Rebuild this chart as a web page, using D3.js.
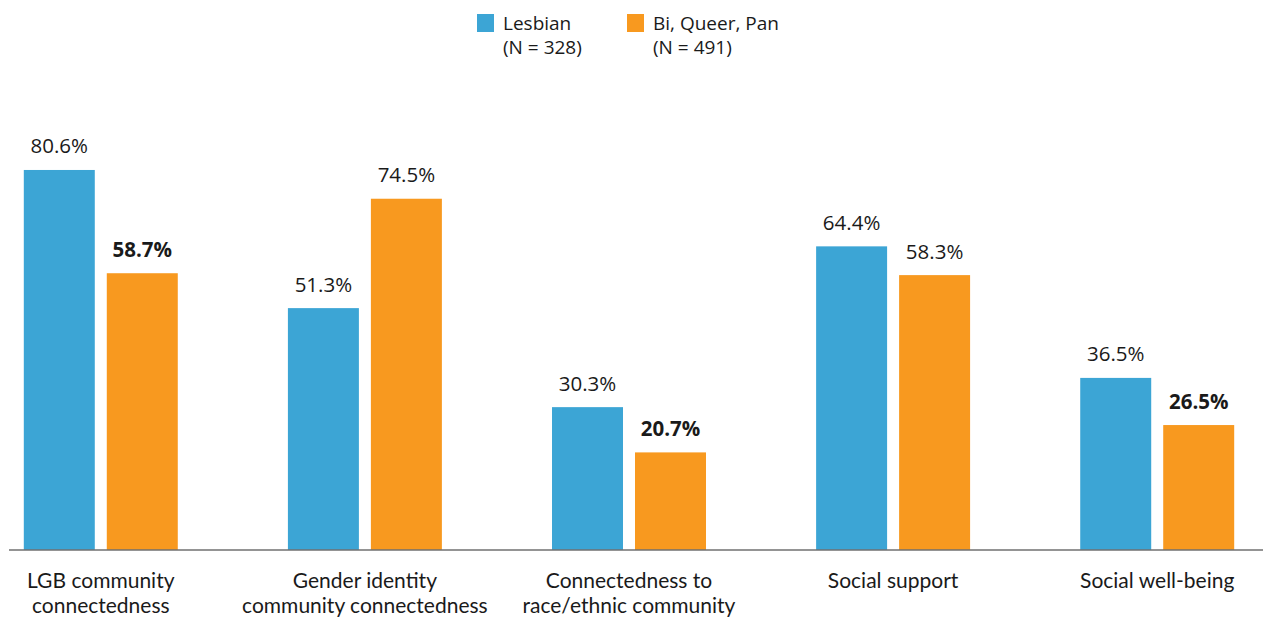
<!DOCTYPE html>
<html>
<head>
<meta charset="utf-8">
<script src="https://cdn.jsdelivr.net/npm/d3@7"></script>
<style>
  html, body { margin: 0; padding: 0; background: #fff; }
  svg { display: block; }
</style>
</head>
<body>
<svg id="chart" width="1263" height="618"></svg>
<script>
const categories = [
  ["LGB community", "connectedness"],
  ["Gender identity", "community connectedness"],
  ["Connectedness to", "race/ethnic community"],
  ["Social support"],
  ["Social well-being"]
];
const seriesNames = ["Lesbian", "Bi, Queer, Pan"];
const seriesN = ["(N = 328)", "(N = 491)"];
const lesbian = [80.6, 51.3, 30.3, 64.4, 36.5];
const biQueerPan = [58.7, 74.5, 20.7, 58.3, 26.5];
const boldFlags = [[false, false, false, false, false], [true, false, true, false, true]];
const colors = ["#3ca5d5", "#f8991f"];

const svg = d3.select("#chart");
const values = [lesbian, biQueerPan];
const catKeys = categories.map((c, i) => i);

const x0 = d3.scaleBand().domain(catKeys).range([23.8, 1234.2]).paddingInner(0.417).paddingOuter(0);
const x1 = d3.scaleBand().domain([0, 1]).range([0, x0.bandwidth()]).paddingInner(0.1446).paddingOuter(0);
const y = d3.scaleLinear().domain([0, 100]).range([550, 78.5]);

const groups = svg.selectAll("g.grp").data(catKeys).join("g")
  .attr("class", "grp")
  .attr("transform", d => `translate(${x0(d)},0)`);

groups.selectAll("rect").data(ci => [0, 1].map(si => ({ si, v: values[si][ci], b: boldFlags[si][ci] })))
  .join("rect")
  .attr("x", d => x1(d.si))
  .attr("width", x1.bandwidth())
  .attr("y", d => y(d.v))
  .attr("height", d => y(0) - y(d.v))
  .attr("fill", d => colors[d.si]);

groups.selectAll("text.val").data(ci => [0, 1].map(si => ({ si, v: values[si][ci], b: boldFlags[si][ci] })))
  .join("text")
  .attr("class", "val")
  .attr("x", d => x1(d.si) + x1.bandwidth() / 2)
  .attr("y", d => y(d.v) - 16.5)
  .attr("text-anchor", "middle")
  .attr("font-family", "'Open Sans', sans-serif")
  .attr("font-size", 20.5)
  .attr("font-weight", d => d.b ? 700 : 400)
  .attr("fill", "#1a1a1a")
  .text(d => d.v.toFixed(1) + "%");

// axis baseline
const xAxis = d3.axisBottom(x0).tickSize(0).tickFormat("");
const axisG = svg.append("g").attr("transform", `translate(0,${y(0)})`).call(xAxis);
axisG.select(".domain").remove();
svg.append("line")
  .attr("x1", 9).attr("x2", 1263)
  .attr("y1", y(0)).attr("y2", y(0))
  .attr("stroke", "#707070").attr("stroke-width", 1.5);

// category labels
const catLabels = svg.selectAll("text.cat").data(catKeys).join("text")
  .attr("class", "cat")
  .attr("x", d => x0(d) + x0.bandwidth() / 2)
  .attr("y", 588)
  .attr("text-anchor", "middle")
  .attr("font-family", "Lato, sans-serif")
  .attr("font-size", 21)
  .attr("fill", "#1a1a1a");
catLabels.selectAll("tspan").data(d => categories[d].map(t => ({ t, c: d })))
  .join("tspan")
  .attr("x", d => x0(d.c) + x0.bandwidth() / 2)
  .attr("dy", (d, i) => i === 0 ? 0 : 25)
  .text(d => d.t);

// legend
const legendX = [477, 627];
const leg = svg.selectAll("g.leg").data([0, 1]).join("g")
  .attr("class", "leg")
  .attr("transform", d => `translate(${legendX[d]},14)`);
leg.append("rect").attr("width", 17).attr("height", 18).attr("fill", d => colors[d]);
leg.append("text")
  .attr("x", 26).attr("y", 16)
  .attr("font-family", "'Open Sans', sans-serif")
  .attr("font-size", 19)
  .attr("fill", "#1a1a1a")
  .text(d => seriesNames[d]);
leg.append("text")
  .attr("x", 26).attr("y", 40)
  .attr("font-family", "'Open Sans', sans-serif")
  .attr("font-size", 19)
  .attr("fill", "#1a1a1a")
  .text(d => seriesN[d]);
</script>
</body>
</html>
